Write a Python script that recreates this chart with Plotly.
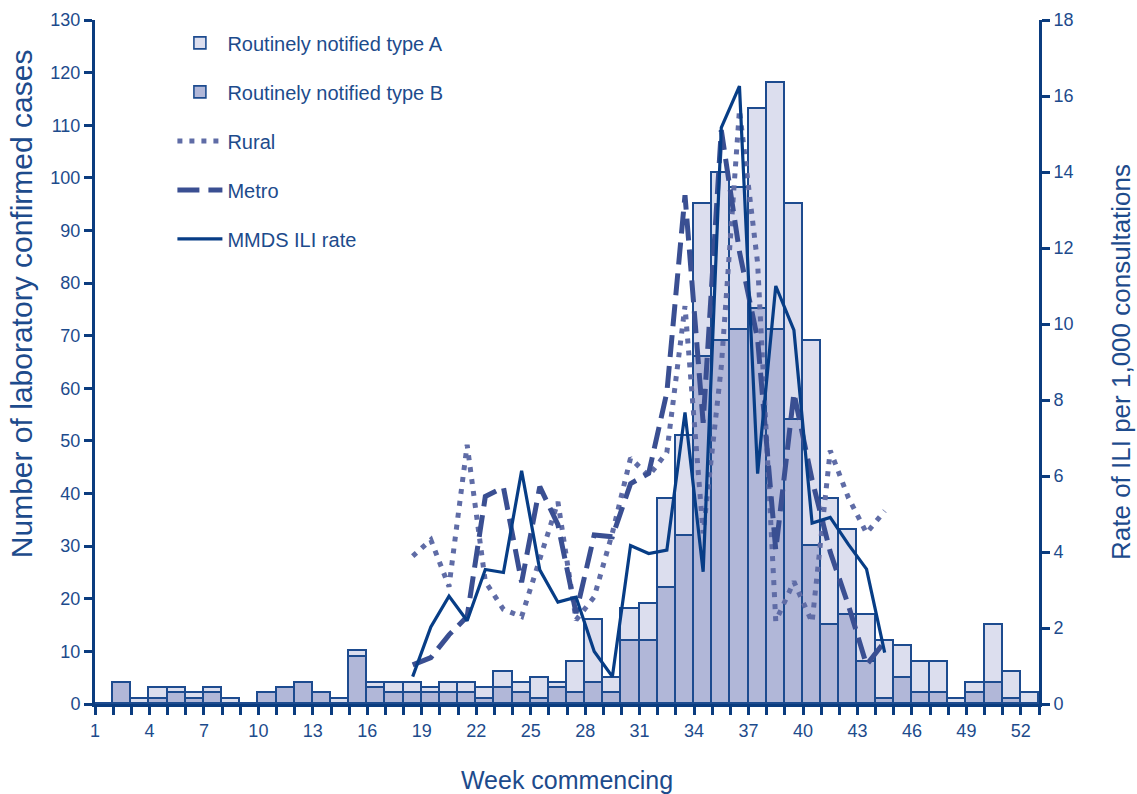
import plotly.graph_objects as go

# ---- data ----
weeks = list(range(1, 53))
type_a = [0, 0, 1, 2, 1, 1, 1, 1, 0, 0, 0, 0, 0, 1, 1, 1, 2, 2, 1, 2,
          2, 2, 3, 2, 4, 1, 6, 12, 3, 6, 7, 17, 19, 29, 32, 27, 38, 47, 41, 39,
          24, 16, 9, 11, 6, 6, 6, 1, 2, 11, 5, 2]
type_b = [0, 4, 0, 1, 2, 1, 2, 0, 0, 2, 3, 4, 2, 0, 9, 3, 2, 2, 2, 2,
          2, 1, 3, 2, 1, 3, 2, 4, 2, 12, 12, 22, 32, 66, 69, 71, 75, 71, 54, 30,
          15, 17, 8, 1, 5, 2, 2, 0, 2, 4, 1, 0]

line_weeks = list(range(18, 45))
rural = [3.89, 4.32, 3.09, 6.82, 3.22, 2.49, 2.30, 3.84, 5.32, 2.21,
         2.82, 4.50, 6.47, 6.00, 6.62, 10.47, 4.49, 8.88, 15.63, 11.60,
         2.18, 3.22, 2.15, 6.67, 5.43, 4.50, 5.08]
metro = [1.03, 1.22, 1.82, 2.30, 5.46, 5.70, 3.20, 5.72, 4.72, 2.39,
         4.45, 4.40, 5.80, 6.07, 8.20, 13.39, 7.40, 15.10, 11.90, 9.60,
         4.05, 8.18, 5.90, 4.00, 2.60, 1.03, 1.64]
mmds = [0.72, 2.03, 2.84, 2.19, 3.54, 3.46, 6.14, 3.53, 2.68, 2.81,
        1.38, 0.72, 4.17, 3.96, 4.05, 7.67, 3.48, 15.17, 16.26, 6.06,
        11.00, 9.84, 4.76, 4.91, 4.20, 3.55, 1.35]

x_tick_labels = [1, 4, 7, 10, 13, 16, 19, 22, 25, 28, 31, 34, 37, 40, 43, 46, 49, 52]
left_ticks = [0, 10, 20, 30, 40, 50, 60, 70, 80, 90, 100, 110, 120, 130]
right_ticks = [0, 2, 4, 6, 8, 10, 12, 14, 16, 18]

# ---- style ----
NAVY = "#0b3c7f"
TEXT = "#1d4b8c"
FILL_A = "#dcdeee"
FILL_B = "#b1b7d8"
EDGE = "#1d4b8f"
MMDS_C = "#073d86"
METRO_C = "#3a4f92"
RURAL_C = "#5f6ca6"
FONT = "Liberation Sans"

line_x = [w + 0.5 for w in line_weeks]

fig = go.Figure()
fig.add_trace(go.Bar(x=weeks, y=type_b, width=1, offset=0, name="Routinely notified type B",
                     marker=dict(color=FILL_B, line=dict(color=EDGE, width=1.6)),
                     legendgroup="b", legendrank=2))
fig.add_trace(go.Bar(x=weeks, y=type_a, width=1, offset=0, name="Routinely notified type A",
                     marker=dict(color=FILL_A, line=dict(color=EDGE, width=1.6)),
                     legendgroup="a", legendrank=1))
fig.add_trace(go.Scatter(x=line_x, y=rural, mode="lines", name="Rural", yaxis="y2",
                         line=dict(color=RURAL_C, width=5, dash="5px,7px"),
                         legendgroup="r", legendrank=3))
fig.add_trace(go.Scatter(x=line_x, y=metro, mode="lines", name="Metro", yaxis="y2",
                         line=dict(color=METRO_C, width=5, dash="22px,9px"),
                         legendgroup="m", legendrank=4))
fig.add_trace(go.Scatter(x=line_x, y=mmds, mode="lines", name="MMDS ILI rate", yaxis="y2",
                         line=dict(color=MMDS_C, width=3.2),
                         legendgroup="i", legendrank=5))

fig.update_layout(
    width=1137, height=794,
    margin=dict(l=95, r=98, t=20, b=90, autoexpand=False),
    paper_bgcolor="white", plot_bgcolor="white",
    barmode="stack", bargap=0,
    font=dict(family=FONT, color=TEXT, size=18),
    legend=dict(x=0.082, y=0.995, xanchor="left", yanchor="top",
                font=dict(size=20, color=TEXT), tracegroupgap=20,
                itemwidth=45, bgcolor="rgba(0,0,0,0)"),
    xaxis=dict(range=[1, 53], tickmode="array", tickvals=x_tick_labels,
               ticktext=[str(v) for v in x_tick_labels],
               ticks="outside", ticklen=8, tickwidth=2.5, tickcolor=NAVY,
               minor=dict(tickmode="linear", tick0=1, dtick=1, ticks="outside",
                          ticklen=8, tickwidth=2.5, tickcolor=NAVY),
               showline=True, linewidth=3, linecolor=NAVY,
               showgrid=False, zeroline=False, automargin=False,
               tickfont=dict(size=18, color=TEXT),
               title=dict(text="Week commencing", font=dict(size=25, color=TEXT), standoff=34)),
    yaxis=dict(range=[0, 130], tickmode="array", tickvals=left_ticks,
               ticks="outside", ticklen=8, tickwidth=2.5, tickcolor=NAVY,
               showline=True, linewidth=3, linecolor=NAVY,
               showgrid=False, zeroline=False, automargin=False,
               tickfont=dict(size=18, color=TEXT)),
    yaxis2=dict(range=[0, 18], overlaying="y", side="right", tickmode="array",
                tickvals=right_ticks,
                ticks="outside", ticklen=8, tickwidth=2.5, tickcolor=NAVY,
                showline=True, linewidth=3, linecolor=NAVY,
                showgrid=False, zeroline=False, automargin=False,
                tickfont=dict(size=18, color=TEXT),
                title=dict(text="Rate of ILI per 1,000 consultations",
                           font=dict(size=26, color=TEXT), standoff=40)),
    annotations=[dict(text="Number of laboratory confirmed cases", textangle=-90,
                      xref="paper", yref="paper", x=-0.0784, y=0.586,
                      xanchor="center", yanchor="middle", showarrow=False,
                      font=dict(size=30, color=TEXT))],
)

fig.write_html("out.html", config={"displayModeBar": False},
               post_script="document.body.style.margin='0px';")
